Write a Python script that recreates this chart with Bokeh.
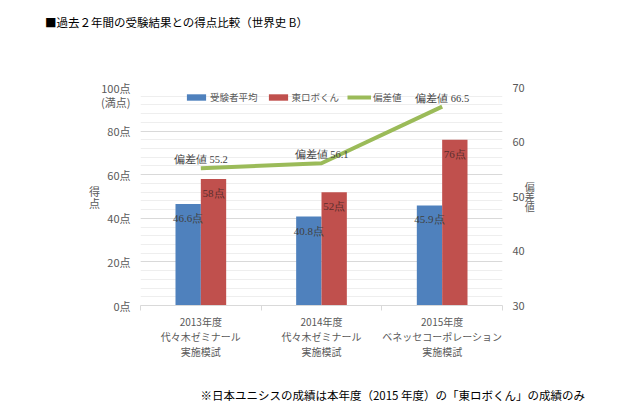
import numpy as np
from bokeh.plotting import figure
from bokeh.models import (ColumnDataSource, Range1d, LinearAxis, FixedTicker,
                          LabelSet, Legend, LegendItem)
from bokeh.transform import dodge
from bokeh.embed import file_html
from bokeh.resources import INLINE

# ---- data ----
cat_year = ["2013年度", "2014年度", "2015年度"]
cat_org = ["代々木ゼミナール", "代々木ゼミナール", "ベネッセコーポレーション"]
cat_kind = ["実施模試", "実施模試", "実施模試"]
avg_scores = [46.6, 40.8, 45.9]          # 受験者平均
robo_scores = [58, 52, 76]               # 東ロボくん
deviation = [55.2, 56.1, 66.5]           # 偏差値
left_ticks = [0, 20, 40, 60, 80, 100]
left_tick_labels = ["0点", "20点", "40点", "60点", "80点", " \n100点\n(満点)"]
right_ticks = [30, 40, 50, 60, 70]

title_text = "■過去２年間の受験結果との得点比較（世界史 B）"
note_text = "※日本ユニシスの成績は本年度（2015 年度）の「東ロボくん」の成績のみ"

FONT = "Noto Sans CJK JP"
GRAY = "#595959"
BLUE = "#4F81BD"
RED = "#C0504D"
GREEN = "#9BBB59"

xc = np.arange(len(cat_year)) + 0.5
src = ColumnDataSource(dict(
    x=xc, avg=avg_scores, robo=robo_scores, dev=deviation,
    avg_lbl=[f"{v}点" for v in avg_scores],
    robo_lbl=[f"{v}点" for v in robo_scores],
    dev_lbl=[f"偏差値 {v}" for v in deviation],
))

p = figure(width=640, height=406, output_backend="svg", toolbar_location=None,
           x_range=Range1d(0, 3), y_range=Range1d(0, 100),
           min_border_left=140, min_border_right=138, min_border_top=87,
           min_border_bottom=101)
p.outline_line_color = None
p.xgrid.visible = False
p.extra_y_ranges = {"dev": Range1d(30, 70)}


def plain_axis(ax, size="11px", standoff=10):
    ax.axis_line_color = None
    ax.major_tick_line_color = None
    ax.minor_tick_line_color = None
    ax.major_tick_in = 0
    ax.major_tick_out = 0
    ax.minor_tick_in = 0
    ax.minor_tick_out = 0
    ax.major_label_standoff = standoff
    ax.major_label_text_font = FONT
    ax.major_label_text_font_size = size
    ax.major_label_text_color = GRAY


# left axis
ly = p.yaxis[0]
ly.ticker = FixedTicker(ticks=left_ticks, minor_ticks=list(range(0, 101, 4)))
ly.major_label_overrides = {t: l for t, l in zip(left_ticks, left_tick_labels)}
plain_axis(ly)
ly.major_label_text_line_height = 0.88
ly.axis_label = "得\n点"
ly.axis_label_orientation = "horizontal"
ly.axis_label_text_font = FONT
ly.axis_label_text_font_size = "11px"
ly.axis_label_text_font_style = "normal"
ly.axis_label_text_color = GRAY
ly.axis_label_standoff = -2
ly.axis_label_text_line_height = 0.75

# right axis
rax = LinearAxis(y_range_name="dev", ticker=FixedTicker(ticks=right_ticks))
plain_axis(rax)
rax.axis_label = "偏\n差\n値"
rax.axis_label_orientation = "horizontal"
rax.axis_label_text_font = FONT
rax.axis_label_text_font_size = "10px"
rax.axis_label_text_font_style = "normal"
rax.axis_label_text_color = GRAY
rax.axis_label_standoff = -3
rax.axis_label_text_line_height = 0.69
p.add_layout(rax, "right")

# bottom (category) axis
bx = p.xaxis[0]
bx.ticker = FixedTicker(ticks=list(xc), minor_ticks=[0, 1, 2, 3])
bx.major_label_overrides = {float(c): f"{y}\n{o}\n{k}"
                            for c, y, o, k in zip(xc, cat_year, cat_org, cat_kind)}
plain_axis(bx, size="10px", standoff=3)
bx.axis_line_color = "#D9D9D9"
bx.minor_tick_line_color = "#D9D9D9"
bx.minor_tick_out = 5
bx.major_label_text_line_height = 1.02

# title (above) and footnote (below) as text rows
tax = LinearAxis(ticker=FixedTicker(ticks=[0.298]),
                 major_label_overrides={0.298: title_text})
plain_axis(tax, size="11.5px", standoff=58)
tax.major_label_text_color = "#000000"
p.add_layout(tax, "above")

nax = LinearAxis(ticker=FixedTicker(ticks=[2.09]),
                 major_label_overrides={2.09: note_text})
plain_axis(nax, size="11.5px", standoff=24)
nax.major_label_text_color = "#000000"
p.add_layout(nax, "below")

p.ygrid.grid_line_color = "#D9D9D9"
p.ygrid.minor_grid_line_color = "#EEEEEE"

# bars and line
bw = 0.21
b1 = p.vbar(x=dodge("x", -bw / 2), top="avg", width=bw, source=src,
            fill_color=BLUE, line_color=None)
b2 = p.vbar(x=dodge("x", bw / 2), top="robo", width=bw, source=src,
            fill_color=RED, line_color=None)
ln = p.line(x="x", y="dev", source=src, y_range_name="dev",
            line_color=GREEN, line_width=4)

p.add_layout(LabelSet(x=dodge("x", -bw / 2), y="avg", text="avg_lbl", source=src,
                      text_align="center", text_baseline="top", y_offset=-8,
                      text_font=FONT, text_font_size="11px", text_color="#404040"))
p.add_layout(LabelSet(x=dodge("x", bw / 2), y="robo", text="robo_lbl", source=src,
                      text_align="center", text_baseline="top", y_offset=-8,
                      text_font=FONT, text_font_size="11px", text_color="#5A2E2C"))
p.add_layout(LabelSet(x="x", y="dev", text="dev_lbl", source=src, y_range_name="dev",
                      text_align="center", text_baseline="bottom", y_offset=3,
                      text_font=FONT, text_font_size="10.5px", text_color="#404040"))

# legend
legend = Legend(items=[LegendItem(label="受験者平均", renderers=[b1]),
                       LegendItem(label="東ロボくん", renderers=[b2]),
                       LegendItem(label="偏差値", renderers=[ln])],
                orientation="horizontal", location=(44, 201),
                padding=0, margin=0, spacing=8, label_standoff=2,
                glyph_width=24, glyph_height=8, label_height=12,
                label_text_font=FONT, label_text_font_size="9.5px",
                label_text_color=GRAY, border_line_color=None,
                background_fill_alpha=0)
p.add_layout(legend, "center")

open("out.html", "w").write(file_html(p, INLINE))
